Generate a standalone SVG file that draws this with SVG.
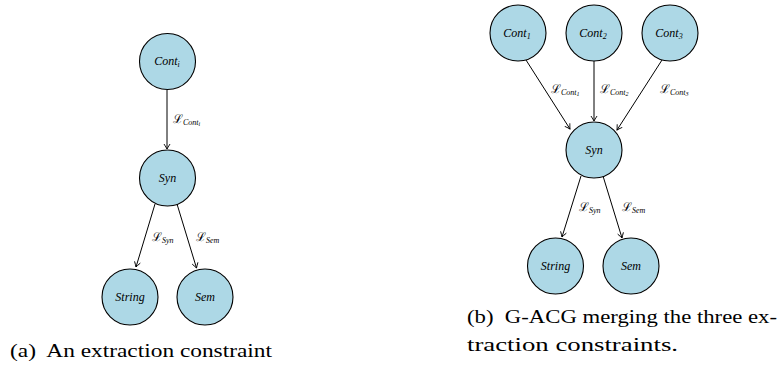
<svg xmlns="http://www.w3.org/2000/svg" width="779" height="371" viewBox="0 0 779 371">
<style>
.node{fill:#ADD8E6;stroke:#000;stroke-width:1.1}
.nl{font-family:'Liberation Serif',serif;font-style:italic;font-size:12px;fill:#000;text-anchor:middle}
.sub{font-size:8px}
.el{font-family:'DejaVu Serif',serif;font-size:12px;fill:#000}
.els{font-family:'Liberation Serif',serif;font-style:italic;font-size:8px}
.edge{stroke:#000;stroke-width:1;fill:none}
.cap{font-family:'Liberation Serif',serif;font-size:19px;fill:#000}
</style>
<defs>
<marker id="ah" viewBox="-6 -4 7 8" refX="0" refY="0" markerWidth="7" markerHeight="8" orient="auto" markerUnits="userSpaceOnUse">
<path d="M -5 -3 Q -1.5 -0.8 0 0 Q -1.5 0.8 -5 3" fill="none" stroke="#000" stroke-width="0.9"/>
</marker>
</defs>
<g id="connectors">
<line class="edge" x1="167" y1="90" x2="167" y2="149" marker-end="url(#ah)"/>
<line class="edge" x1="155" y1="204" x2="136" y2="267" marker-end="url(#ah)"/>
<line class="edge" x1="177" y1="204" x2="196.5" y2="268" marker-end="url(#ah)"/>
<line class="edge" x1="526" y1="60" x2="570" y2="129" marker-end="url(#ah)"/>
<line class="edge" x1="594" y1="61" x2="594" y2="121" marker-end="url(#ah)"/>
<line class="edge" x1="662" y1="60" x2="617" y2="130" marker-end="url(#ah)"/>
<line class="edge" x1="581" y1="176" x2="562" y2="237" marker-end="url(#ah)"/>
<line class="edge" x1="603" y1="176" x2="622" y2="238" marker-end="url(#ah)"/>
</g>
<g id="edge-labels">
<text class="el" x="173" y="123">ℒ<tspan class="els" dy="2">Cont<tspan font-size="6" dy="1">i</tspan></tspan></text>
<text class="el" x="152" y="241">ℒ<tspan class="els" dy="2">Syn</tspan></text>
<text class="el" x="196" y="241">ℒ<tspan class="els" dy="2">Sem</tspan></text>
<text class="el" x="551" y="93">ℒ<tspan class="els" dy="2">Cont<tspan font-size="6" dy="1">1</tspan></tspan></text>
<text class="el" x="600" y="93">ℒ<tspan class="els" dy="2">Cont<tspan font-size="6" dy="1">2</tspan></tspan></text>
<text class="el" x="660" y="93">ℒ<tspan class="els" dy="2">Cont<tspan font-size="6" dy="1">3</tspan></tspan></text>
<text class="el" x="579" y="211">ℒ<tspan class="els" dy="2">Syn</tspan></text>
<text class="el" x="622" y="211">ℒ<tspan class="els" dy="2">Sem</tspan></text>
</g>
<g id="a-cont">
<circle class="node" cx="167.5" cy="61.5" r="28"/>
<text class="nl" x="167" y="65">Cont<tspan class="sub" dy="1.5">i</tspan></text>
</g>
<g id="a-syn">
<circle class="node" cx="167.5" cy="178" r="28"/>
<text class="nl" x="167.5" y="182">Syn</text>
</g>
<g id="a-string">
<circle class="node" cx="130" cy="297" r="28"/>
<text class="nl" x="130" y="301">String</text>
</g>
<g id="a-sem">
<circle class="node" cx="205" cy="297" r="28"/>
<text class="nl" x="205" y="301">Sem</text>
</g>
<g id="b-cont1">
<circle class="node" cx="518" cy="33" r="28"/>
<text class="nl" x="517" y="37">Cont<tspan class="sub" dy="1.5">1</tspan></text>
</g>
<g id="b-cont2">
<circle class="node" cx="594" cy="33" r="28"/>
<text class="nl" x="593" y="37">Cont<tspan class="sub" dy="1.5">2</tspan></text>
</g>
<g id="b-cont3">
<circle class="node" cx="670" cy="33" r="28"/>
<text class="nl" x="669" y="37">Cont<tspan class="sub" dy="1.5">3</tspan></text>
</g>
<g id="b-syn">
<circle class="node" cx="594" cy="150" r="28"/>
<text class="nl" x="594" y="154">Syn</text>
</g>
<g id="b-string">
<circle class="node" cx="555.5" cy="266" r="28"/>
<text class="nl" x="555.5" y="270">String</text>
</g>
<g id="b-sem">
<circle class="node" cx="631" cy="266" r="28"/>
<text class="nl" x="631" y="270">Sem</text>
</g>
<g id="captions">
<text class="cap" x="10" y="357" textLength="262" lengthAdjust="spacingAndGlyphs" xml:space="preserve">(a)  An extraction constraint</text>
<text class="cap" x="467" y="323" textLength="310" lengthAdjust="spacingAndGlyphs" xml:space="preserve">(b)  G-ACG merging the three ex-</text>
<text class="cap" x="467" y="351" textLength="211" lengthAdjust="spacingAndGlyphs">traction constraints.</text>
</g>
</svg>
